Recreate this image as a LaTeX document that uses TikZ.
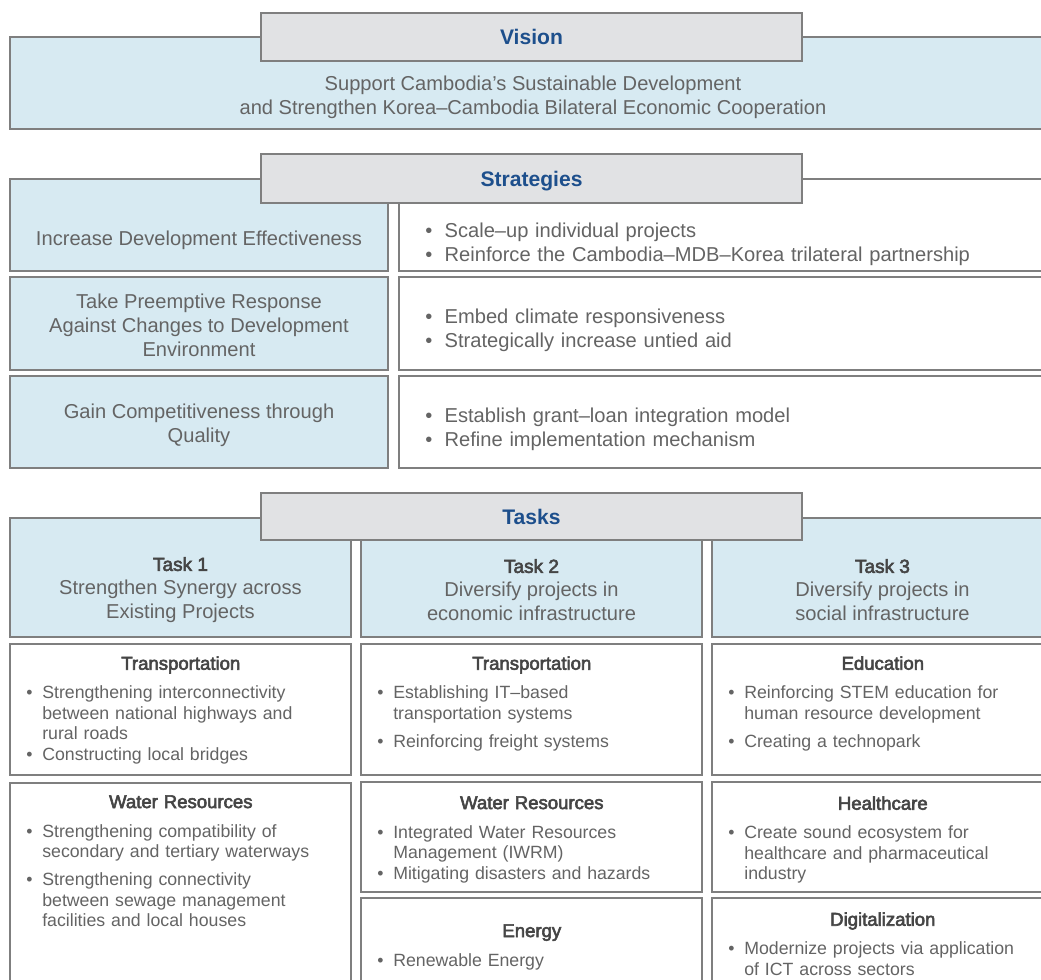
\documentclass[tikz,border=0pt]{standalone}
\usepackage{fontspec}
\setmainfont{Liberation Sans}
\newfontfamily\medfont[FakeBold=3]{Liberation Sans}
\usepackage{tikz}

\definecolor{lineGray}{HTML}{7F7F7F}
\definecolor{paleBlue}{HTML}{D7EAF2}
\definecolor{headGray}{HTML}{E1E2E4}
\definecolor{titleBlue}{HTML}{1D4F8C}
\definecolor{bodyGray}{HTML}{646464}
\definecolor{darkGray}{HTML}{454545}

\newcommand{\bodyfont}{\fontsize{14.3}{17}\selectfont\parskip=0pt}
\newcommand{\smallfont}{\fontsize{12.6}{14.6}\selectfont\parskip=0pt}
\newcommand{\taskfont}{\medfont\fontsize{13.5}{17}\selectfont\color{darkGray}}
% bullet items (sub boxes / strategy boxes)
\newcommand{\itm}[1]{\par\noindent\hangindent=11.4pt\hangafter=1\makebox[11.4pt][l]{•}#1\par}
\newcommand{\sitm}[1]{\par\noindent\hangindent=13.8pt\hangafter=1\makebox[13.8pt][l]{•}#1\par}
\newcommand{\hd}[1]{{\centering\medfont\fontsize{13.2}{15}\selectfont\textcolor{darkGray}{#1}\par}\vspace{6pt}}
\newcommand{\gap}{\vspace{5.3pt}}

\begin{document}
\begin{tikzpicture}[x=0.025cm, y=-0.025cm,
  boxwh/.style 2 args={minimum width=#1*0.025cm, minimum height=#2*0.025cm},
  cellbox/.style={draw=lineGray, line width=0.8pt, anchor=north west, inner sep=0pt, outer sep=0pt},
  bluebox/.style={cellbox, fill=paleBlue},
  whitebox/.style={cellbox, fill=white},
  headbox/.style={cellbox, fill=headGray, text=titleBlue, text depth=0pt, font=\bfseries\fontsize{15}{18}\selectfont},
  boxtext/.style={align=center, text=bodyGray, font=\bodyfont, inner sep=0pt},
  items/.style={anchor=west, inner sep=0pt, text width=15cm, align=left, text=bodyGray, font=\bodyfont},
  cell/.style={anchor=north west, inner sep=0pt, text width=7.725cm, align=left, text=bodyGray, font=\smallfont}]
\useasboundingbox (0,0) rectangle (1041,980);
\clip (0,0) rectangle (1041,980);

% vision
\node (vis) [bluebox, boxwh={1043}{92}] at (10,37) {};
\node (visHead) [headbox, boxwh={541}{48}] at (261,13) {Vision};
\node (visText) [boxtext] at (533,97) {Support Cambodia’s Sustainable Development\\and Strengthen Korea–Cambodia Bilateral Economic Cooperation};

% strategies
\node (str1) [bluebox, boxwh={378}{92}] at (10,179) {};
\node (str1b) [whitebox, boxwh={654}{92}] at (399,179) {};
\node (str2) [bluebox, boxwh={378}{93}] at (10,277) {};
\node (str2b) [whitebox, boxwh={654}{93}] at (399,277) {};
\node (str3) [bluebox, boxwh={378}{92}] at (10,376) {};
\node (str3b) [whitebox, boxwh={654}{92}] at (399,376) {};
\node (strHead) [headbox, boxwh={541}{49}] at (261,154) {Strategies};

\node (str1Text) [boxtext] at (199,240) {Increase Development Effectiveness};
\node (str2Text) [boxtext] at (199,325) {Take Preemptive Response\\Against Changes to Development\\Environment};
\node (str3Text) [boxtext] at (199,425) {Gain Competitiveness through\\Quality};
\node (str1List) [items] at (425,240) {\sitm{Scale–up individual projects}\sitm{Reinforce the Cambodia–MDB–Korea trilateral partnership}};
\node (str2List) [items] at (425,326) {\sitm{Embed climate responsiveness}\sitm{Strategically increase untied aid}};
\node (str3List) [items] at (425,425) {\sitm{Establish grant–loan integration model}\sitm{Refine implementation mechanism}};

% tasks
\node (task1) [bluebox, boxwh={341}{119}] at (10,518) {};
\node (task2) [bluebox, boxwh={341}{119}] at (361,518) {};
\node (task3) [bluebox, boxwh={341}{119}] at (712,518) {};
\node (taskHead) [headbox, boxwh={541}{47}] at (261,493) {Tasks};

\node (task1Text) [boxtext] at (180.5,590) {{\taskfont Task 1}\\Strengthen Synergy across\\Existing Projects};
\node (task2Text) [boxtext] at (531.5,590) {{\taskfont Task 2}\\Diversify projects in\\economic infrastructure};
\node (task3Text) [boxtext] at (882.5,590) {{\taskfont Task 3}\\Diversify projects in\\social infrastructure};

% sector boxes
\node (tr1) [whitebox, boxwh={341}{131}] at (10,644) {};
\node (tr2) [whitebox, boxwh={341}{131}] at (361,644) {};
\node (edu3) [whitebox, boxwh={341}{131}] at (712,644) {};
\node (wr1) [whitebox, boxwh={341}{240}] at (10,783) {};
\node (wr2) [whitebox, boxwh={341}{110}] at (361,782) {};
\node (hc3) [whitebox, boxwh={341}{110}] at (712,782) {};
\node (en2) [whitebox, boxwh={341}{120}] at (361,898) {};
\node (dg3) [whitebox, boxwh={341}{120}] at (712,898) {};

\node (tr1List) [cell] at (26,656) {\hd{Transportation}\itm{Strengthening interconnectivity\newline between national highways and\newline rural roads}\itm{Constructing local bridges}};
\node (tr2List) [cell] at (377,656) {\hd{Transportation}\itm{Establishing IT–based\newline transportation systems}\gap\itm{Reinforcing freight systems}};
\node (edu3List) [cell] at (728,656) {\hd{Education}\itm{Reinforcing STEM education for\newline human resource development}\gap\itm{Creating a technopark}};
\node (wr1List) [cell] at (26,795) {\hd{Water Resources}\itm{Strengthening compatibility of\newline secondary and tertiary waterways}\gap\itm{Strengthening connectivity\newline between sewage management\newline facilities and local houses}};
\node (wr2List) [cell] at (377,796) {\hd{Water Resources}\itm{Integrated Water Resources\newline Management (IWRM)}\itm{Mitigating disasters and hazards}};
\node (hc3List) [cell] at (728,796) {\hd{Healthcare}\itm{Create sound ecosystem for\newline healthcare and pharmaceutical\newline industry}};
\node (en2List) [cell] at (377,924) {\hd{Energy}\itm{Renewable Energy}};
\node (dg3List) [cell] at (728,912) {\hd{Digitalization}\itm{Modernize projects via application\newline of ICT across sectors}};
\end{tikzpicture}
\end{document}
